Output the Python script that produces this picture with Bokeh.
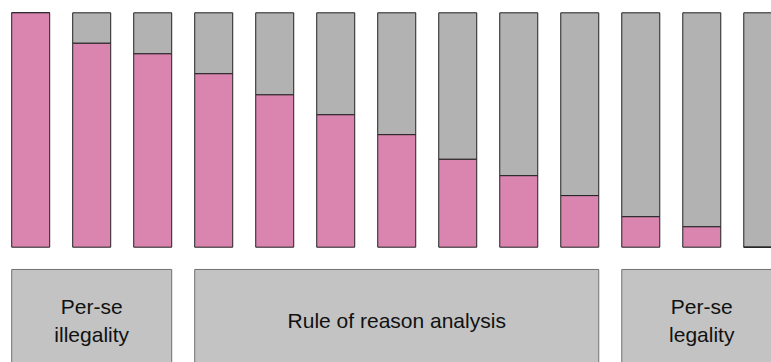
from bokeh.plotting import figure
from bokeh.models import ColumnDataSource, Range1d
from bokeh.embed import file_html
from bokeh.resources import INLINE
from bokeh.core.properties import value

# Data
positions = list(range(13))
pink_share = [100, 87, 82.5, 74, 65, 56.5, 48, 37.5, 30.5, 22, 13, 8.7, 0]
total = [100] * 13
group_first = [0, 3, 10]
group_last = [2, 9, 12]
group_labels = ["Per-se\nillegality", "Rule of reason analysis", "Per-se\nlegality"]

BAR_W = 0.623
PINK = "#d985b0"
GREY = "#b2b2b2"
BOX = "#c3c3c3"

p = figure(width=771, height=362, output_backend="svg", toolbar_location=None,
           x_range=Range1d(-0.495, 12.143), y_range=Range1d(-49.19, 105.25),
           min_border=0)
p.axis.visible = False
p.grid.visible = False
p.outline_line_color = None
p.background_fill_color = "white"
p.border_fill_color = "white"

src = ColumnDataSource(dict(x=positions, pink=pink_share, total=total,
                            zero=[0] * 13))
p.vbar(x="x", width=BAR_W, bottom="pink", top="total", source=src,
       fill_color=GREY, line_color="#222222", line_width=1)
p.vbar(x="x", width=BAR_W, bottom="zero", top="pink", source=src,
       fill_color=PINK, line_color="#222222", line_width=1)

gsrc = ColumnDataSource(dict(
    left=[f - BAR_W / 2 for f in group_first],
    right=[l + BAR_W / 2 for l in group_last],
    cx=[(f + l) / 2 for f, l in zip(group_first, group_last)],
    label=group_labels,
))
p.quad(left="left", right="right", top=-9.5, bottom=-70, source=gsrc,
       fill_color=BOX, line_color="#707070", line_width=1)
p.text(x="cx", y=-31.3, text="label", source=gsrc,
       text_align="center", text_baseline="middle",
       text_font=value("Liberation Sans"), text_font_size="21px",
       text_color="#111111", text_line_height=1.2)

open("out.html", "w").write(file_html(p, INLINE))
